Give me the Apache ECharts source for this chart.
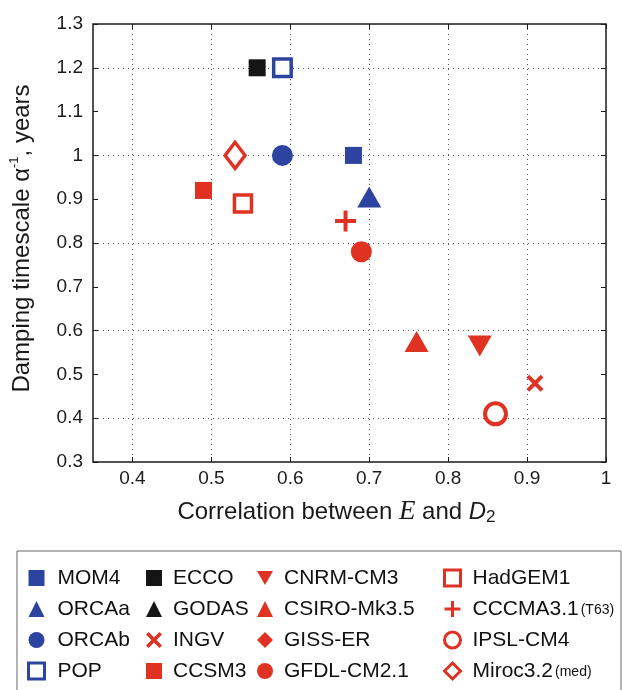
<!DOCTYPE html>
<html>
<head>
<meta charset="utf-8">
<script src="https://cdn.jsdelivr.net/npm/echarts@6/dist/echarts.min.js"></script>
<style>
html, body { margin: 0; padding: 0; background: #fff; }
#chart1 { width: 622px; height: 690px; }
</style>
</head>
<body>
<div id="chart1"></div>
<script>
// model names, in legend order (column by column)
var names = ['MOM4', 'ORCAa', 'ORCAb', 'POP',
	'ECCO', 'GODAS', 'INGV', 'CCSM3',
	'CNRM-CM3', 'CSIRO-Mk3.5', 'GISS-ER', 'GFDL-CM2.1',
	'HadGEM1', 'CCCMA3.1(T63)', 'IPSL-CM4', 'Miroc3.2 (med)'];
// correlation between E and D2
var corr = [0.68, 0.70, 0.59, 0.59,
	0.558, null, 0.91, 0.49,
	0.84, 0.76, null, 0.69,
	0.54, 0.67, 0.86, 0.53];
// damping timescale, years
var damp = [1.00, 0.905, 1.00, 1.20,
	1.20, null, 0.48, 0.92,
	0.565, 0.575, null, 0.78,
	0.89, 0.85, 0.41, 1.00];
var xTicks = [0.4, 0.5, 0.6, 0.7, 0.8, 0.9, 1];

var blue = '#2d43a0', red = '#e03222', black = '#151515';
var pX = 'path://M0,1.6 L1.6,0 L5,3.4 L8.4,0 L10,1.6 L6.6,5 L10,8.4 L8.4,10 L5,6.6 L1.6,10 L0,8.4 L3.4,5 Z';
var pPlus = 'path://M4.05,0 h1.9 v4.05 h4.05 v1.9 h-4.05 v4.05 h-1.9 v-4.05 h-4.05 v-1.9 h4.05 Z';
var pDown = 'path://M0,0 L10,0 L5,8.7 Z';

// marker look for each model
var look = {
	'MOM4': {s: 'rect', size: 17, c: blue},
	'ORCAa': {s: 'triangle', size: [24, 21], c: blue},
	'ORCAb': {s: 'circle', size: 21, c: blue},
	'POP': {s: 'rect', size: 17.5, c: blue, open: true},
	'ECCO': {s: 'rect', size: 17, c: black},
	'GODAS': {s: 'triangle', size: [24, 21], c: black},
	'INGV': {s: pX, size: 17, c: red},
	'CCSM3': {s: 'rect', size: 17, c: red},
	'CNRM-CM3': {s: pDown, size: [24, 21], c: red},
	'CSIRO-Mk3.5': {s: 'triangle', size: [24, 21], c: red},
	'GISS-ER': {s: 'diamond', size: [20, 26], c: red},
	'GFDL-CM2.1': {s: 'circle', size: 21, c: red},
	'HadGEM1': {s: 'rect', size: 17, c: red, open: true},
	'CCCMA3.1(T63)': {s: pPlus, size: 21, c: red},
	'IPSL-CM4': {s: 'circle', size: 21, c: red, open: true},
	'Miroc3.2 (med)': {s: 'diamond', size: [20, 26], c: red, open: true}
};

function styleOf(name, bw) {
	var l = look[name];
	if (l.open) return {color: '#fff', borderColor: l.c, borderWidth: bw, opacity: 1};
	return {color: l.c, borderWidth: 0, opacity: 1};
}

var series = names.map(function (n, i) {
	var pts = corr[i] == null ? [] : [[corr[i], damp[i]]];
	return {
		name: n,
		type: 'scatter',
		xAxisIndex: 0,
		yAxisIndex: 0,
		symbol: look[n].s,
		symbolSize: look[n].size,
		symbolKeepAspect: false,
		itemStyle: styleOf(n, n === 'IPSL-CM4' ? 4 : 3.5),
		emphasis: {disabled: true},
		data: pts,
		z: 5
	};
});

function legendCol(from, left, pad) {
	return {
		orient: 'vertical',
		left: left,
		top: 567,
		padding: 0,
		height: 130,
		itemWidth: 16,
		itemHeight: 16,
		itemGap: 9,
		selectedMode: false,
		textStyle: {
			fontFamily: 'Liberation Sans',
			fontSize: 21,
			lineHeight: 22,
			color: '#111',
			padding: [0, 0, 0, pad],
			rich: {
				s: {fontFamily: 'Liberation Sans', fontSize: 14, lineHeight: 22, color: '#111', padding: [3, 0, 0, 2]}
			}
		},
		formatter: function (n) {
			if (n === 'CCCMA3.1(T63)') return 'CCCMA3.1{s|(T63)}';
			if (n === 'Miroc3.2 (med)') return 'Miroc3.2{s|(med)}';
			return n;
		},
		data: names.slice(from, from + 4).map(function (n) {
			return {name: n, icon: look[n].s, itemStyle: styleOf(n, 3)};
		})
	};
}

var axisFont = {fontFamily: 'Liberation Sans', fontSize: 19, color: '#1a1a1a'};

var option = {
	animation: false,
	backgroundColor: '#fff',
	grid: {
		left: 90, right: 16, top: 24, bottom: 228,
		show: true, borderColor: '#1a1a1a', borderWidth: 1.5
	},
	xAxis: [{
		type: 'value',
		min: 0.35, max: 1,
		position: 'bottom',
		axisLine: {show: false},
		axisTick: {inside: true, length: 5, lineStyle: {color: '#1a1a1a'}, customValues: xTicks},
		axisLabel: Object.assign({margin: 7, customValues: xTicks}, axisFont),
		splitLine: {show: true, lineStyle: {color: '#555', type: [1, 4], width: 1}},
		name: 'Correlation between {e|E} and {i|D}{sub|2}',
		nameLocation: 'middle',
		nameGap: 36,
		nameTextStyle: {
			fontFamily: 'Liberation Sans', fontSize: 24, color: '#1a1a1a', lineHeight: 28,
			padding: [0, 26, 0, 0],
			rich: {
				e: {fontFamily: 'Liberation Serif', fontStyle: 'italic', fontSize: 27, lineHeight: 28, color: '#1a1a1a'},
				i: {fontFamily: 'Liberation Sans', fontStyle: 'italic', fontSize: 24, lineHeight: 28, color: '#1a1a1a'},
				sub: {fontFamily: 'Liberation Sans', fontSize: 17, lineHeight: 14, verticalAlign: 'bottom', color: '#1a1a1a'}
			}
		}
	}, {
		type: 'value',
		min: 0.35, max: 1,
		position: 'top',
		axisLine: {show: false},
		axisTick: {inside: true, length: 5, lineStyle: {color: '#1a1a1a'}, customValues: xTicks},
		axisLabel: {show: false},
		splitLine: {show: false}
	}],
	yAxis: [{
		type: 'value',
		min: 0.3, max: 1.3, interval: 0.1,
		position: 'left',
		axisLine: {show: false},
		axisTick: {inside: true, length: 5, lineStyle: {color: '#1a1a1a'}},
		axisLabel: Object.assign({margin: 10}, axisFont),
		splitLine: {show: true, lineStyle: {color: ['rgba(0,0,0,0)', '#555'], type: [1, 4], width: 1}},
		name: 'Damping timescale \u03b1{sup|-1}, years',
		nameLocation: 'middle',
		nameGap: 57,
		nameTextStyle: {
			fontFamily: 'Liberation Sans', fontSize: 24, color: '#1a1a1a', lineHeight: 28,
			padding: [0, 0, 0, 9],
			rich: {
				sup: {fontFamily: 'Liberation Sans', fontSize: 13, lineHeight: 14, verticalAlign: 'top', color: '#1a1a1a'}
			}
		}
	}, {
		type: 'value',
		min: 0.3, max: 1.3, interval: 0.1,
		position: 'right',
		axisLine: {show: false},
		axisTick: {inside: true, length: 5, lineStyle: {color: '#1a1a1a'}},
		axisLabel: {show: false},
		splitLine: {show: false}
	}],
	legend: [legendCol(0, 27, 8), legendCol(4, 146, 6), legendCol(8, 257, 6), legendCol(12, 443, 7)],
	graphic: [{
		type: 'rect',
		shape: {x: 17, y: 551, width: 604, height: 160},
		style: {fill: 'none', stroke: '#666', lineWidth: 1},
		silent: true
	}],
	series: series
};
var chart1 = echarts.init(document.getElementById('chart1'));
chart1.setOption(option);
</script>
</body>
</html>
